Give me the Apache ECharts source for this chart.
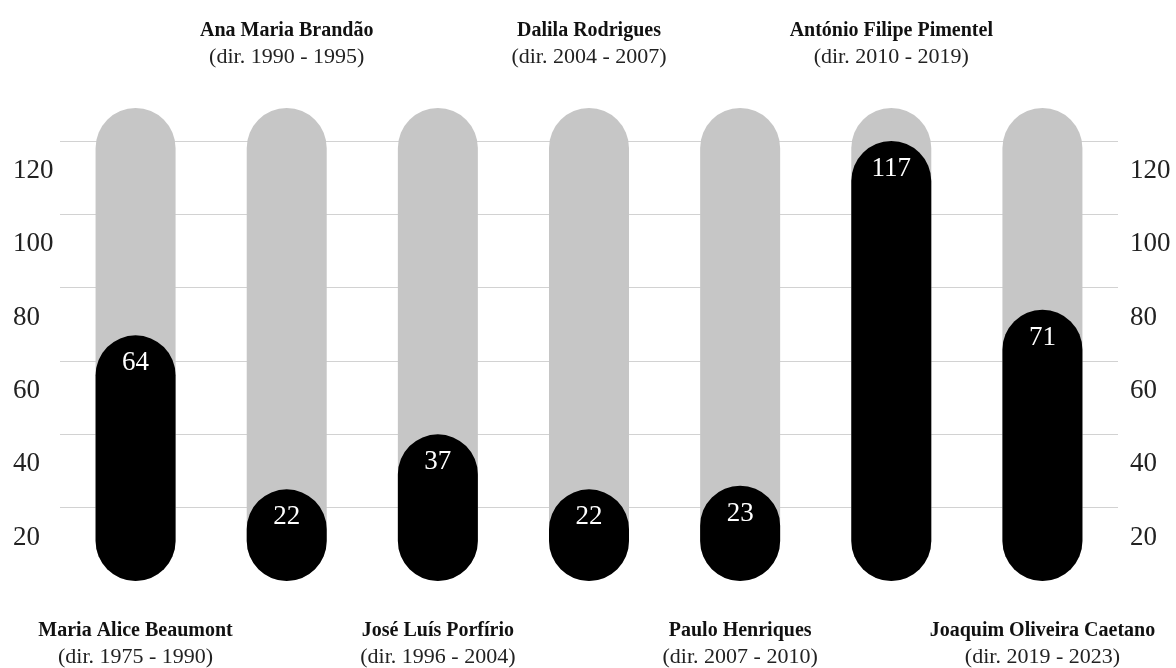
<!DOCTYPE html>
<html><head><meta charset="utf-8">
<script src="https://cdn.jsdelivr.net/npm/echarts@6/dist/echarts.min.js"></script>
<style>html,body{margin:0;padding:0;background:#fff}#c{width:1176px;height:668px}</style>
</head><body><div id="c"></div>
<script>
const names = ['Maria Alice Beaumont','Ana Maria Brandão','José Luís Porfírio','Dalila Rodrigues','Paulo Henriques','António Filipe Pimentel','Joaquim Oliveira Caetano'];
const periods = ['(dir. 1975 - 1990)','(dir. 1990 - 1995)','(dir. 1996 - 2004)','(dir. 2004 - 2007)','(dir. 2007 - 2010)','(dir. 2010 - 2019)','(dir. 2019 - 2023)'];
const values = [64, 22, 37, 22, 23, 117, 71];
const tickLabels = ['20','40','60','80','100','120'];
const trackMax = 126;

const yMin = -3, yMax = 126, yStep = 20;
const FONT = '"Liberation Serif", "Times New Roman", serif';

function tickFmt(value) {
  const k = Math.round((value - yMin) / yStep);
  if (Math.abs((value - yMin) - k * yStep) > 1e-6) return '';
  return tickLabels[k - 1] || '';
}
function catFmt(odd) {
  return function (value) {
    const i = names.indexOf(value);
    if ((i % 2 === 1) !== odd) return '';
    return '{n|' + names[i] + '}\n{d|' + periods[i] + '}';
  };
}
const rich = {
  n: {fontFamily: FONT, fontWeight: 'bold', fontSize: 20, lineHeight: 26, color: '#111'},
  d: {fontFamily: FONT, fontSize: 22, lineHeight: 26, color: '#222'}
};

function renderItem(params, api) {
  const i = api.value(0), v = api.value(1);
  const p = api.coord([i, v]);
  const x = p[0], top = p[1];
  const base = api.coord([i, yMin])[1];
  const trackTop = api.coord([i, trackMax])[1];
  const w = 80, r = w / 2;
  return {type: 'group', children: [
    {type: 'rect', shape: {x: x - w / 2, y: trackTop, width: w, height: base - trackTop, r: r}, style: {fill: '#c6c6c6'}},
    {type: 'rect', shape: {x: x - w / 2, y: top, width: w, height: base - top, r: r}, style: {fill: '#000'}},
    {type: 'text', x: x, y: top + 28, style: {text: String(v), fill: '#fff', font: '27px ' + FONT, align: 'center', verticalAlign: 'middle'}}
  ]};
}

const chart = echarts.init(document.getElementById('c'), null, {renderer: 'canvas'});
chart.setOption({
  animation: false,
  backgroundColor: '#fff',
  grid: {left: 60, right: 58, top: 108, bottom: 84, containLabel: false},
  xAxis: [
    {type: 'category', data: names, position: 'bottom', boundaryGap: true,
     axisLine: {show: false}, axisTick: {show: false}, splitLine: {show: false},
     axisLabel: {interval: 0, margin: 37, formatter: catFmt(false), rich: rich, verticalAlign: 'top'}},
    {type: 'category', data: names, position: 'top', boundaryGap: true,
     axisLine: {show: false}, axisTick: {show: false}, splitLine: {show: false},
     axisLabel: {interval: 0, margin: 38, formatter: catFmt(true), rich: rich, verticalAlign: 'bottom'}}
  ],
  yAxis: [
    {type: 'value', position: 'left', min: yMin, max: yMax, interval: yStep,
     axisLine: {show: false}, axisTick: {show: false},
     splitLine: {show: true, showMinLine: false, showMaxLine: false, lineStyle: {color: '#d2d2d2', width: 1}},
     axisLabel: {formatter: tickFmt, showMinLabel: false, showMaxLabel: false, align: 'left', margin: 47,
       verticalAlign: 'top', lineHeight: 60, fontFamily: FONT, fontSize: 27, color: '#222'}},
    {type: 'value', position: 'right', min: yMin, max: yMax, interval: yStep,
     axisLine: {show: false}, axisTick: {show: false}, splitLine: {show: false},
     axisLabel: {formatter: tickFmt, showMinLabel: false, showMaxLabel: false, align: 'left', margin: 12,
       verticalAlign: 'top', lineHeight: 60, fontFamily: FONT, fontSize: 27, color: '#222'}}
  ],
  series: [{
    type: 'custom', xAxisIndex: 0, yAxisIndex: 0,
    renderItem: renderItem,
    data: values.map((v, i) => [i, v])
  }]
});
</script></body></html>
